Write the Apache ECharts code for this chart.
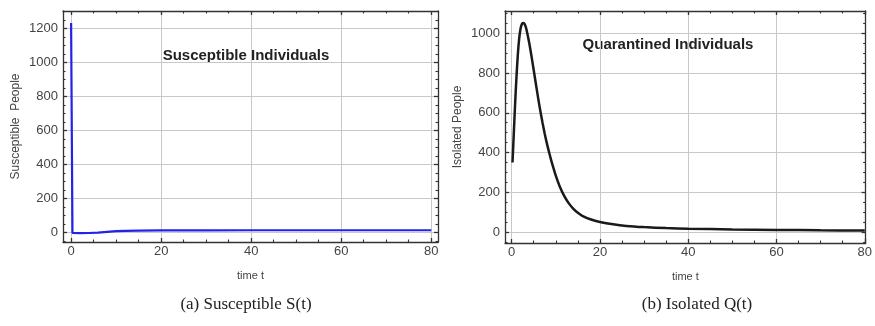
<!DOCTYPE html>
<html><head><meta charset="utf-8">
<script src="https://cdn.jsdelivr.net/npm/echarts@6/dist/echarts.min.js"></script>
<style>html,body{margin:0;padding:0;background:#fff}#c{width:875px;height:326px}</style>
</head><body><div id="c"></div>
<script>
// ---- data ----
const susT = [0, 0.3, 2, 4, 6, 8, 10, 12, 15, 20, 30, 40, 60, 80];
const susS = [1234, -2, -3, -2, 0, 5, 9, 11, 12, 13, 13, 14, 14, 14];

const qT = [0.2, 0.5, 0.8, 1.1, 1.4, 1.7, 2.0, 2.3, 2.6, 2.9, 3.2, 3.5, 4.0, 4.5, 5.0, 5.5, 6.0, 6.5, 7.0, 7.5, 8.0, 8.5, 9.0, 9.5, 10, 11, 12, 13, 14, 15, 16, 18, 20, 23, 26, 30, 35, 40, 50, 60, 70, 80];
const qV = [350, 500, 650, 780, 890, 970, 1020, 1045, 1052, 1048, 1032, 1005, 950, 885, 815, 745, 675, 610, 550, 495, 445, 400, 358, 320, 284, 224, 178, 143, 117, 97, 82, 63, 51, 39, 31, 25, 20, 17, 13, 11, 9, 8];

const xMajor = [0, 20, 40, 60, 80];
const xMinor = [5, 10, 15, 25, 30, 35, 45, 50, 55, 65, 70, 75];
const sYMajor = [0, 200, 400, 600, 800, 1000, 1200];
const sYMinor = [-50, 50, 100, 150, 250, 300, 350, 450, 500, 550, 650, 700, 750, 850, 900, 950, 1050, 1100, 1150, 1250, 1300];
const qYMajor = [0, 200, 400, 600, 800, 1000];
const qYMinor = [-50, 50, 100, 150, 250, 300, 350, 450, 500, 550, 650, 700, 750, 850, 900, 950, 1050, 1100];

const titles = ['Susceptible Individuals', 'Quarantined Individuals'];
const yNames = ['Susceptible  People', 'Isolated People'];
const xName = 'time t';
const captions = ['(a) Susceptible S(t)', '(b) Isolated Q(t)'];

// ---- styling helpers ----
const FONT = 'Liberation Sans, Arial, sans-serif';
const AX = '#333';
function axisGroup(dim, g, min, max, major, minor, name, nameGap) {
  const posA = dim === 'x' ? 'bottom' : 'left';
  const posB = dim === 'x' ? 'top' : 'right';
  const line = {show: true, onZero: false, lineStyle: {color: AX, width: 1.3}};
  const base = {type: 'value', gridIndex: g, min: min, max: max, silent: true};
  return [
    Object.assign({}, base, {
      position: posA, axisLine: line,
      axisTick: {show: true, inside: true, length: 4, customValues: major, lineStyle: {color: AX, width: 1.3}},
      axisLabel: {show: true, customValues: major, margin: dim === 'x' ? 3 : 5, fontSize: 13, color: '#444', fontFamily: FONT,
                  formatter: v => String(v)},
      splitLine: {show: true, lineStyle: {color: '#c8c8c8', width: 1}},
      name: name, nameLocation: 'middle', nameGap: nameGap, nameMoveOverlap: false,
      nameTextStyle: {fontSize: dim === 'x' ? 11 : 12, color: '#444', fontFamily: FONT}
    }),
    Object.assign({}, base, {
      position: posA, axisLine: {show: false, onZero: false},
      axisTick: {show: true, inside: true, length: 2.5, customValues: minor, lineStyle: {color: AX, width: 1.1}},
      axisLabel: {show: false}, splitLine: {show: false}
    }),
    Object.assign({}, base, {
      position: posB, axisLine: line,
      axisTick: {show: true, inside: true, length: 4, customValues: major, lineStyle: {color: AX, width: 1.3}},
      axisLabel: {show: false}, splitLine: {show: false}
    }),
    Object.assign({}, base, {
      position: posB, axisLine: {show: false, onZero: false},
      axisTick: {show: true, inside: true, length: 2.5, customValues: minor, lineStyle: {color: AX, width: 1.1}},
      axisLabel: {show: false}, splitLine: {show: false}
    })
  ];
}

const chart = echarts.init(document.getElementById('c'), null, {renderer: 'canvas'});
const option = {
  animation: false,
  backgroundColor: '#fff',
  grid: [
    {left: 63, top: 11, width: 375, height: 231},
    {left: 505, top: 11, width: 369, height: 232}
  ],
  xAxis: [].concat(
    axisGroup('x', 0, -1.8, 81.5, xMajor, xMinor, xName, 28),
    axisGroup('x', 1, -1.5, 80.2, xMajor, xMinor, xName, 28)
  ),
  yAxis: [].concat(
    axisGroup('y', 0, -55, 1304, sYMajor, sYMinor, yNames[0], 41),
    axisGroup('y', 1, -55, 1112, qYMajor, qYMinor, yNames[1], 41)
  ),
  series: [
    {type: 'line', xAxisIndex: 0, yAxisIndex: 0, showSymbol: false, smooth: false,
     lineStyle: {color: '#2222ee', width: 2.2}, itemStyle: {color: '#2222ee'},
     data: susT.map((t, i) => [t, susS[i]])},
    {type: 'line', xAxisIndex: 4, yAxisIndex: 4, showSymbol: false, smooth: 0.3,
     lineStyle: {color: '#1a1a1a', width: 2.5}, itemStyle: {color: '#1a1a1a'},
     data: qT.map((t, i) => [t, qV[i]])}
  ],
  graphic: [
    {type: 'text', x: 246, y: 56, style: {text: titles[0], font: 'bold 15px ' + FONT, fill: '#222', align: 'center', verticalAlign: 'middle'}},
    {type: 'text', x: 668, y: 45, style: {text: titles[1], font: 'bold 15px ' + FONT, fill: '#222', align: 'center', verticalAlign: 'middle'}},
    {type: 'text', x: 246, y: 305, style: {text: captions[0], font: '17px "Liberation Serif", serif', fill: '#222', align: 'center', verticalAlign: 'middle'}},
    {type: 'text', x: 697, y: 305, style: {text: captions[1], font: '17px "Liberation Serif", serif', fill: '#222', align: 'center', verticalAlign: 'middle'}}
  ]
};
chart.setOption(option);
</script>
</body></html>
